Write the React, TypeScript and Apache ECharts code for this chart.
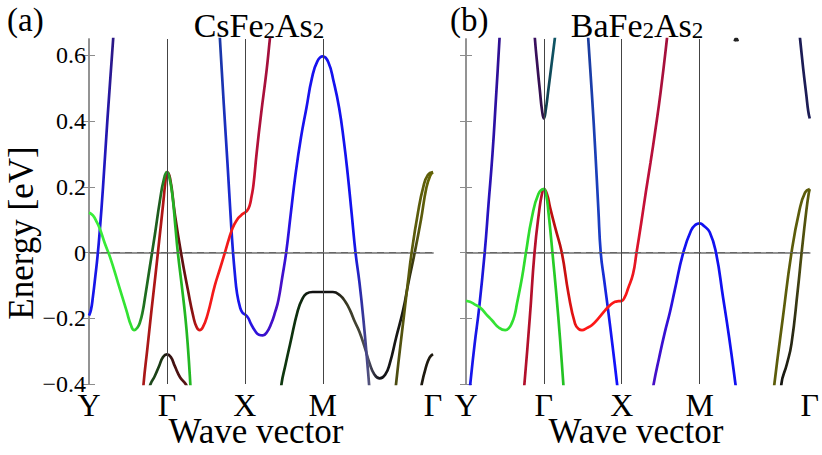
import React, { useEffect, useRef } from "react";
import * as echarts from "echarts";

const GAMMA_END = 3 + Math.SQRT2;
const kTickValues = [0, 1, 2, 3, GAMMA_END];
const kTickLabels = ["Y", "Γ", "X", "M", "Γ"];
const energyTicks = [-0.4, -0.2, 0, 0.2, 0.4, 0.6];
const energyMin = -0.4;
const energyMax = 0.65;
const symmetryLines = [1, 2, 3];

// ---------- (a) CsFe2As2 bands: [k, E(eV)] ----------
const csYBlue = [[0, -0.192], [0.025, -0.175], [0.05, -0.135], [0.08, -0.075], [0.11, -0.01], [0.14, 0.072], [0.18, 0.2], [0.235, 0.4], [0.31, 0.65], [0.33, 0.72]];
const csXZ = [[0, 0.122], [0.05, 0.113], [0.1, 0.093], [0.14, 0.072], [0.2, 0.03], [0.27, -0.014], [0.376, -0.095], [0.48, -0.176], [0.54, -0.222], [0.58, -0.236], [0.62, -0.229], [0.654, -0.212], [0.69, -0.178], [0.72, -0.135], [0.78, -0.044], [0.846, 0.056], [0.91, 0.158], [0.96, 0.222], [1, 0.245], [1.03, 0.23], [1.07, 0.175], [1.11, 0.075], [1.14, 0], [1.19, -0.1], [1.236, -0.196], [1.27, -0.29], [1.3, -0.4], [1.31, -0.45]];
const csYZ = [[0.69, -0.45], [0.7, -0.4], [0.75, -0.29], [0.8, -0.18], [0.85, -0.075], [0.9, 0.035], [0.95, 0.145], [0.98, 0.215], [1, 0.245], [1.04, 0.226], [1.1, 0.12], [1.18, 0], [1.27, -0.115], [1.34, -0.196], [1.38, -0.226], [1.42, -0.236], [1.46, -0.228], [1.52, -0.19], [1.615, -0.1], [1.68, -0.05], [1.744, 0], [1.84, 0.073], [1.9, 0.1], [1.95, 0.113], [2, 0.122], [2.03, 0.128], [2.06, 0.142], [2.085, 0.17], [2.11, 0.205], [2.15, 0.3], [2.21, 0.425], [2.28, 0.557], [2.32, 0.648], [2.34, 0.69]];
const csGammaLow = [[0.74, -0.44], [0.79, -0.4], [0.84, -0.378], [0.9, -0.345], [0.95, -0.318], [1, -0.31], [1.05, -0.318], [1.1, -0.345], [1.17, -0.38], [1.24, -0.4], [1.29, -0.43]];
const csXY = [[1.66, 0.73], [1.68, 0.65], [1.73, 0.45], [1.78, 0.26], [1.82, 0.1], [1.845, 0.01], [1.87, -0.06], [1.9, -0.125], [1.94, -0.168], [1.97, -0.183], [2, -0.188], [2.04, -0.198], [2.08, -0.218], [2.13, -0.238], [2.18, -0.25], [2.23, -0.252], [2.28, -0.243], [2.34, -0.215], [2.39, -0.18], [2.43, -0.145], [2.48, -0.075], [2.53, 0], [2.59, 0.12], [2.65, 0.238], [2.72, 0.35], [2.79, 0.44], [2.86, 0.53], [2.93, 0.582], [3, 0.597], [3.07, 0.58], [3.14, 0.52], [3.21, 0.44], [3.27, 0.34], [3.32, 0.238], [3.37, 0.12], [3.42, 0], [3.47, -0.09], [3.52, -0.2], [3.58, -0.36], [3.6, -0.42]];
const csMBand = [[2.43, -0.5], [2.47, -0.4], [2.52, -0.343], [2.58, -0.279], [2.68, -0.176], [2.74, -0.14], [2.79, -0.125], [2.87, -0.12], [3, -0.12], [3.13, -0.12], [3.22, -0.13], [3.29, -0.15], [3.35, -0.176], [3.41, -0.21], [3.47, -0.241], [3.54, -0.29], [3.6, -0.337], [3.66, -0.37], [3.73, -0.383], [3.8, -0.372], [3.86, -0.337], [3.94, -0.26], [4.03, -0.176], [4.1, -0.09], [4.18, 0], [4.26, 0.1], [4.33, 0.198], [4.38, 0.235], [GAMMA_END, 0.245]];
const csOlive = [[3.92, -0.45], [3.94, -0.4], [4, -0.275], [4.05, -0.175], [4.09, -0.095], [4.14, 0], [4.22, 0.12], [4.29, 0.2], [4.35, 0.237], [GAMMA_END, 0.245]];
const csGammaEnd = [[4.24, -0.45], [4.27, -0.4], [4.32, -0.352], [4.37, -0.32], [GAMMA_END, -0.309]];

// ---------- (b) BaFe2As2 bands ----------
const baYBlue = [[0.04, -0.44], [0.055, -0.4], [0.11, -0.28], [0.17, -0.166], [0.24, 0], [0.29, 0.15], [0.34, 0.3], [0.385, 0.47], [0.43, 0.65], [0.44, 0.7]];
const baXZ = [[0, -0.147], [0.05, -0.15], [0.1, -0.156], [0.184, -0.168], [0.26, -0.188], [0.333, -0.206], [0.42, -0.228], [0.504, -0.236], [0.55, -0.23], [0.59, -0.214], [0.625, -0.19], [0.654, -0.156], [0.72, -0.075], [0.77, 0], [0.846, 0.107], [0.93, 0.178], [1, 0.193], [1.03, 0.175], [1.06, 0.12], [1.11, 0], [1.185, -0.196], [1.25, -0.4], [1.26, -0.44]];
const baYZ = [[0.73, -0.45], [0.75, -0.4], [0.82, -0.196], [0.88, 0], [0.94, 0.127], [0.975, 0.178], [1, 0.193], [1.04, 0.178], [1.08, 0.137], [1.15, 0.072], [1.23, 0], [1.316, -0.125], [1.4, -0.216], [1.45, -0.233], [1.49, -0.236], [1.55, -0.23], [1.615, -0.221], [1.7, -0.2], [1.786, -0.176], [1.86, -0.158], [1.914, -0.15], [1.96, -0.148], [2, -0.147], [2.04, -0.135], [2.08, -0.11], [2.145, -0.065], [2.19, 0], [2.25, 0.09], [2.31, 0.185], [2.37, 0.275], [2.43, 0.37], [2.5, 0.49], [2.58, 0.65], [2.6, 0.7]];
const baXYGX = [[1.56, 0.69], [1.57, 0.65], [1.62, 0.47], [1.66, 0.31], [1.7, 0.13], [1.73, 0], [1.775, -0.085], [1.82, -0.166], [1.88, -0.28], [1.94, -0.4], [1.96, -0.44]];
const baXYM = [[2.38, -0.45], [2.41, -0.4], [2.48, -0.32], [2.55, -0.246], [2.62, -0.18], [2.68, -0.115], [2.79, 0], [2.89, 0.067], [2.95, 0.085], [3, 0.089], [3.06, 0.08], [3.13, 0.062], [3.21, 0], [3.3, -0.135], [3.38, -0.26], [3.46, -0.4], [3.48, -0.44]];
const baOlive1 = [[3.94, -0.45], [3.96, -0.4], [4.07, -0.196], [4.18, 0], [4.28, 0.127], [4.355, 0.183], [GAMMA_END, 0.193]];
const baOlive2 = [[4.04, -0.44], [4.05, -0.4], [4.12, -0.34], [4.18, -0.277], [4.26, -0.115], [4.31, 0], [4.37, 0.127], [4.4, 0.178], [GAMMA_END, 0.193]];
const baGammaTop = [[0.86, 0.74], [0.885, 0.65], [0.92, 0.56], [0.95, 0.49], [0.975, 0.435], [1, 0.408], [1.025, 0.435], [1.06, 0.5], [1.1, 0.575], [1.14, 0.65], [1.16, 0.69]];
const baGammaEndTop = [[4.27, 0.69], [4.29, 0.65], [4.33, 0.56], [4.37, 0.48], [4.395, 0.43], [GAMMA_END, 0.408]];
const baMGammaTip = [[3.45, 0.643], [3.47, 0.652], [3.49, 0.643]];

type Band = { data: number[][]; stops: [number, string][] };

const csBands: Band[] = [
  { data: csGammaLow, stops: [[0.74, "#1f4f1f"], [0.92, "#1a3a14"], [1, "#201010"], [1.1, "#4a1212"], [1.29, "#5a1414"]] },
  { data: csMBand, stops: [[2.43, "#0e3a0e"], [2.7, "#0e2e0e"], [2.85, "#111111"], [3.15, "#141414"], [3.3, "#3a3a22"], [3.48, "#444438"], [3.58, "#505068"], [3.73, "#121218"], [4.08, "#1a1a12"], [4.22, "#555510"], [4.414, "#6a6a00"]] },
  { data: csOlive, stops: [[3.92, "#4a4a12"], [4.1, "#5a5a0c"], [4.414, "#606008"]] },
  { data: csGammaEnd, stops: [[4.24, "#1e1a10"], [4.414, "#1e1a10"]] },
  { data: csYBlue, stops: [[0, "#1414f0"], [0.15, "#1a18e0"], [0.22, "#2418b0"], [0.31, "#2c1884"]] },
  { data: csXY, stops: [[1.66, "#1a3a9e"], [1.8, "#1a2ad0"], [1.9, "#1515f0"], [2.1, "#2a14e0"], [2.25, "#3a10cc"], [2.45, "#4a10c4"], [2.62, "#1a12ee"], [3.4, "#1212ee"], [3.5, "#3030a0"], [3.6, "#555577"]] },
  { data: csYZ, stops: [[0.69, "#a81818"], [0.98, "#b01515"], [1.06, "#7a1010"], [1.2, "#5e1010"], [1.33, "#8a1212"], [1.42, "#e01818"], [1.5, "#f51a1a"], [2.02, "#f01a1a"], [2.09, "#d0122c"], [2.16, "#b0103a"], [2.34, "#a0103c"]] },
  { data: csXZ, stops: [[0, "#3cf03c"], [0.58, "#30e030"], [0.7, "#1f6e1f"], [0.9, "#1e5a1e"], [1, "#25a025"], [1.1, "#22b422"], [1.31, "#22b822"]] },
];

const baBands: Band[] = [
  { data: baOlive2, stops: [[4.04, "#141410"], [4.2, "#2a2a14"], [4.3, "#4a4a10"], [4.414, "#5c5c0a"]] },
  { data: baOlive1, stops: [[3.94, "#5c5c0a"], [4.414, "#5c5c0a"]] },
  { data: baGammaTop, stops: [[0.86, "#3c1064"], [0.99, "#301048"], [1.01, "#0f3a4a"], [1.16, "#105a6a"]] },
  { data: baGammaEndTop, stops: [[4.27, "#1c1c55"], [4.414, "#1c1c55"]] },
  { data: baMGammaTip, stops: [[3.45, "#222222"], [3.49, "#222222"]] },
  { data: baYBlue, stops: [[0.04, "#1515f0"], [0.2, "#1a16e0"], [0.3, "#2a12b8"], [0.44, "#30108e"]] },
  { data: baXYGX, stops: [[1.56, "#1a3c9c"], [1.7, "#1a40c0"], [1.85, "#1414f0"], [1.96, "#1010ff"]] },
  { data: baXYM, stops: [[2.38, "#4a10c4"], [2.6, "#3010d8"], [2.8, "#1212f0"], [3.48, "#1010f0"]] },
  { data: baYZ, stops: [[0.73, "#b0102c"], [0.97, "#b8102a"], [1.03, "#c01010"], [1.2, "#b80e0e"], [1.4, "#e81414"], [1.5, "#ff1818"], [2.1, "#f81818"], [2.3, "#c0103a"], [2.6, "#a0103c"]] },
  { data: baXZ, stops: [[0, "#3ae83a"], [1, "#2ad82a"], [1.26, "#22c022"]] },
];

const FONT = "Liberation Serif";

function bandSeries(band: Band, g: number) {
  const ks = band.data.map((p) => p[0]);
  const kmin = Math.min(...ks);
  const kmax = Math.max(...ks);
  const stops = band.stops.map(([k, c]) => ({
    offset: Math.min(1, Math.max(0, (k - kmin) / (kmax - kmin))),
    color: c,
  }));
  return {
    type: "line",
    xAxisIndex: g * 2,
    yAxisIndex: g * 2,
    data: band.data,
    showSymbol: false,
    symbol: "none",
    smooth: 0.5,
    clip: true,
    silent: true,
    z: 3,
    lineStyle: { width: 2.7, color: new echarts.graphic.LinearGradient(0, 0, 1, 0, stops) },
  };
}

function refSeries(g: number) {
  return {
    type: "line",
    xAxisIndex: g * 2,
    yAxisIndex: g * 2,
    data: [[0, 0]],
    showSymbol: false,
    symbol: "none",
    lineStyle: { opacity: 0 },
    silent: true,
    z: 1,
    markLine: {
      silent: true,
      symbol: ["none", "none"],
      label: { show: false },
      animation: false,
      data: [
        ...symmetryLines.map((k) => ({ xAxis: k, lineStyle: { color: "#444", width: 1, type: "solid" } })),
        { yAxis: 0, lineStyle: { color: "#666", width: 1.2, type: [7, 5] } },
      ],
    },
  };
}

const fmtE = (v: number) => (Math.abs(v) < 1e-9 ? "0" : (v < 0 ? "\u2212" : "") + Math.abs(v).toFixed(1));
const fmtK = (v: number) => {
  const i = kTickValues.findIndex((t) => Math.abs(t - v) < 1e-6);
  return i >= 0 ? kTickLabels[i] : "";
};

const frame = { show: true, lineStyle: { color: "#8c8c8c", width: 1.5 } };

function axesFor(g: number) {
  const xs = [
    {
      gridIndex: g, type: "value", min: 0, max: GAMMA_END, position: "bottom",
      axisLine: frame, axisTick: { show: false }, splitLine: { show: false },
      axisLabel: { show: true, customValues: kTickValues, formatter: fmtK, fontFamily: FONT, fontSize: 32, lineHeight: 22, color: "#000", margin: 10, showMinLabel: true, showMaxLabel: true },
    },
    {
      gridIndex: g, type: "value", min: 0, max: GAMMA_END, position: "top",
      axisLine: frame, axisTick: { show: false }, splitLine: { show: false }, axisLabel: { show: false },
    },
  ];
  const ys = [
    {
      gridIndex: g, type: "value", min: energyMin, max: energyMax, position: "left",
      axisLine: frame, splitLine: { show: false },
      axisTick: { show: true, inside: true, length: 6, customValues: energyTicks, lineStyle: { color: "#8c8c8c", width: 1 } },
      axisLabel: { show: g === 0, customValues: energyTicks, formatter: fmtE, fontFamily: FONT, fontSize: 24, color: "#000", margin: 3, showMinLabel: true, showMaxLabel: true },
    },
    {
      gridIndex: g, type: "value", min: energyMin, max: energyMax, position: "right",
      axisLine: frame, splitLine: { show: false },
      axisTick: { show: true, inside: true, length: 6, customValues: energyTicks, lineStyle: { color: "#8c8c8c", width: 1 } },
      axisLabel: { show: false },
    },
  ];
  return { xs, ys };
}

export default function App() {
  const ref = useRef<HTMLDivElement>(null);
  useEffect(() => {
    document.body.style.margin = "0";
    if (!ref.current) return;
    const chart = echarts.init(ref.current, null, { renderer: "svg" });
    const a0 = axesFor(0);
    const a1 = axesFor(1);
    const rich = {
      m: { fontFamily: FONT, fontSize: 34, lineHeight: 34, verticalAlign: "bottom", color: "#000" },
      s: { fontFamily: FONT, fontSize: 23, lineHeight: 23, verticalAlign: "bottom", color: "#000" },
    };
    chart.setOption({
      animation: false,
      backgroundColor: "#fff",
      grid: [
        { left: 89, top: 39, width: 344, height: 345 },
        { left: 466, top: 39, width: 345, height: 345 },
      ],
      xAxis: [...a0.xs, ...a1.xs],
      yAxis: [...a0.ys, ...a1.ys],
      series: [
        refSeries(0),
        refSeries(1),
        ...csBands.map((b) => bandSeries(b, 0)),
        ...baBands.map((b) => bandSeries(b, 1)),
      ],
      graphic: [
        { type: "text", x: 7, y: 20, style: { text: "(a)", fontFamily: FONT, fontSize: 33, fill: "#000", align: "left", verticalAlign: "middle" } },
        { type: "text", x: 450, y: 20, style: { text: "(b)", fontFamily: FONT, fontSize: 33, fill: "#000", align: "left", verticalAlign: "middle" } },
        { type: "text", x: 259, y: 25, style: { text: "{m|CsFe}{s|2}{m|As}{s|2}", rich, align: "center", verticalAlign: "middle" } },
        { type: "text", x: 637, y: 25, style: { text: "{m|BaFe}{s|2}{m|As}{s|2}", rich, align: "center", verticalAlign: "middle" } },
        { type: "text", x: 256, y: 431, style: { text: "Wave vector", fontFamily: FONT, fontSize: 35, lineHeight: 24, fill: "#000", align: "center", verticalAlign: "middle" } },
        { type: "text", x: 636, y: 431, style: { text: "Wave vector", fontFamily: FONT, fontSize: 35, lineHeight: 24, fill: "#000", align: "center", verticalAlign: "middle" } },
        { type: "text", x: 21, y: 233, rotation: Math.PI / 2, style: { text: "Energy [eV]", fontFamily: FONT, fontSize: 35, fill: "#000", align: "center", verticalAlign: "middle" } },
      ],
    });
    return () => chart.dispose();
  }, []);
  return <div ref={ref} style={{ width: 822, height: 455 }} />;
}
